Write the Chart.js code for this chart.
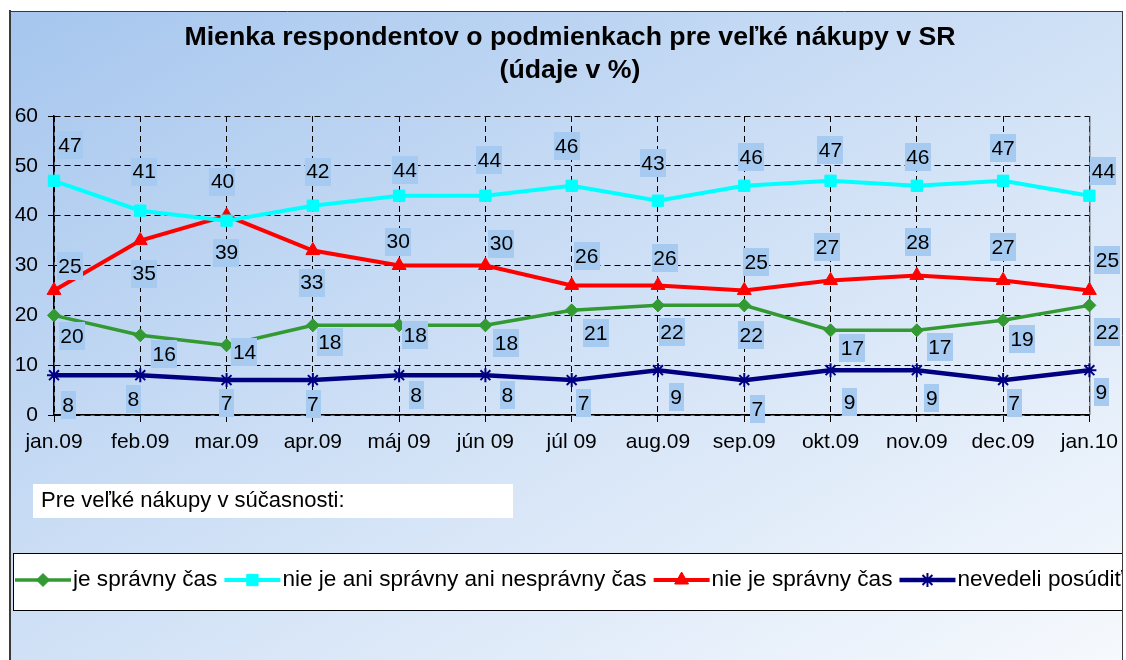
<!DOCTYPE html>
<html><head><meta charset="utf-8">
<script src="https://cdn.jsdelivr.net/npm/chart.js@4.4.1/dist/chart.umd.min.js"></script>
<style>html,body{margin:0;padding:0;background:#fff;}#wrap{width:1126px;height:660px;}</style>
</head><body><div id="wrap"><canvas id="c" width="1126" height="660"></canvas></div>
<script>
// ---- data ----
const categories = ['jan.09','feb.09','mar.09','apr.09','máj 09','jún 09','júl 09','aug.09','sep.09','okt.09','nov.09','dec.09','jan.10'];
const seriesNames = ['je správny čas','nie je ani správny ani nesprávny čas','nie je správny čas','nevedeli posúdiť'];
const valuesRight   = [20,16,14,18,18,18,21,22,22,17,17,19,22];
const valuesNeutral = [47,41,39,42,44,44,46,43,46,47,46,47,44];
const valuesWrong   = [25,35,40,33,30,30,26,26,25,27,28,27,25];
const valuesUnknown = [8,8,7,7,8,8,7,9,7,9,9,7,9];
const yTicks = [0,10,20,30,40,50,60];
const titleLines = ['Mienka respondentov o podmienkach pre veľké nákupy v SR','(údaje v %)'];
const noteText = 'Pre veľké nákupy v súčasnosti:';

// ---- label placement (style: pixel offsets of data labels from their points) ----
const labelOffsets = [
  [[18,21],[24,19],[18,7],[17,17],[16,10],[21,18],[24,23],[14,27],[7,30],[22,18],[23,17],[19,19],[18,27]],
  [[16,-36],[4,-39],[0,32],[5,-34],[6,-26],[4,-36],[-5,-40],[-5,-38],[7,-29],[0,-31],[1,-29],[0,-33],[14,-25]],
  [[16,-24],[4,33],[-4,-34],[-1,32],[-1,-24],[16,-22],[15,-29],[7,-27],[12,-28],[-3,-33],[1,-33],[0,-33],[18,-30]],
  [[14,30],[-7,24],[0,23],[0,24],[17,20],[22,20],[12,23],[18,27],[13,29],[19,32],[15,28],[11,23],[12,22]]
];
const styles = [
  {color:'#339933', point:'rectRot', r:6.5, lw:3.5, pbw:1},
  {color:'#00ffff', point:'rect', r:8, lw:4, pbw:1},
  {color:'#ff0000', point:'triangle', r:8, lw:4, pbw:1},
  {color:'#000080', point:'star', r:7, lw:4.5, pbw:2}
];
const FONT = "'Liberation Sans', Arial, sans-serif";
Chart.defaults.font.family = FONT;
Chart.defaults.color = '#000';

const seriesValues = [valuesRight, valuesNeutral, valuesWrong, valuesUnknown];
const datasets = seriesValues.map((vals, i) => ({
  label: seriesNames[i],
  data: vals,
  borderColor: styles[i].color,
  backgroundColor: styles[i].color,
  pointBackgroundColor: styles[i].color,
  pointBorderColor: styles[i].color,
  pointStyle: styles[i].point,
  pointRadius: styles[i].r,
  pointBorderWidth: styles[i].pbw,
  borderWidth: styles[i].lw,
  tension: 0,
  clip: false
}));

function drawSymbol(ctx, style, x, y, r, color, pbw) {
  ctx.save();
  ctx.fillStyle = color; ctx.strokeStyle = color; ctx.lineWidth = pbw;
  ctx.beginPath();
  if (style === 'rectRot') {
    ctx.moveTo(x - r, y); ctx.lineTo(x, y - r); ctx.lineTo(x + r, y); ctx.lineTo(x, y + r); ctx.closePath(); ctx.fill(); ctx.stroke();
  } else if (style === 'rect') {
    const s = Math.SQRT1_2 * r; ctx.rect(x - s, y - s, 2 * s, 2 * s); ctx.fill(); ctx.stroke();
  } else if (style === 'triangle') {
    for (let k = 0; k < 3; k++) { const a = k * 2 * Math.PI / 3; const px = x + Math.sin(a) * r, py = y - Math.cos(a) * r; k ? ctx.lineTo(px, py) : ctx.moveTo(px, py); }
    ctx.closePath(); ctx.fill(); ctx.stroke();
  } else if (style === 'star') {
    for (let k = 0; k < 4; k++) { const a = k * Math.PI / 4; ctx.moveTo(x - Math.cos(a) * r, y - Math.sin(a) * r); ctx.lineTo(x + Math.cos(a) * r, y + Math.sin(a) * r); }
    ctx.stroke();
  }
  ctx.restore();
}

const decorPlugin = {
  id: 'decor',
  afterLayout(chart) {
    // the reference title is centred slightly right of the plot's centre
    if (chart.titleBlock) { chart.titleBlock.left += 20; chart.titleBlock.right += 20; }
  },
  beforeDraw(chart) {
    const ctx = chart.ctx;
    ctx.save();
    ctx.fillStyle = '#fff'; ctx.fillRect(0, 0, 1126, 660);
    const g = ctx.createLinearGradient(10, 11, 575, 980);
    g.addColorStop(0, 'rgb(166,198,238)');
    g.addColorStop(0.5, 'rgb(208,225,246)');
    g.addColorStop(1, 'rgb(246,249,253)');
    ctx.fillStyle = g; ctx.fillRect(10, 11, 1113, 649);
    ctx.restore();
  },
  beforeDatasetsDraw(chart) {
    const ctx = chart.ctx, a = chart.chartArea;
    ctx.save();
    ctx.strokeStyle = '#555'; ctx.lineWidth = 1;
    ctx.beginPath(); ctx.moveTo(a.right + 0.5, a.top); ctx.lineTo(a.right + 0.5, a.bottom); ctx.stroke();
    ctx.restore();
  },
  afterDatasetsDraw(chart) {
    const ctx = chart.ctx;
    ctx.save();
    ctx.font = '21px ' + FONT;
    ctx.textAlign = 'center'; ctx.textBaseline = 'middle';
    chart.data.datasets.forEach((ds, i) => {
      const meta = chart.getDatasetMeta(i);
      meta.data.forEach((el, j) => {
        const off = labelOffsets[i][j];
        const x = el.x + off[0], y = el.y + off[1];
        const t = String(ds.data[j]);
        const w = ctx.measureText(t).width + 3, h = 28;
        ctx.fillStyle = 'rgb(166,202,240)';
        ctx.fillRect(Math.round(x - w / 2), Math.round(y - h / 2), Math.round(w), h);
        ctx.fillStyle = '#000';
        ctx.fillText(t, x, y + 1);
      });
    });
    ctx.restore();
  },
  afterDraw(chart) {
    const ctx = chart.ctx;
    ctx.save();
    // note box
    ctx.fillStyle = '#fff'; ctx.fillRect(33, 484, 480, 34);
    ctx.fillStyle = '#000'; ctx.font = '22px ' + FONT; ctx.textAlign = 'left'; ctx.textBaseline = 'middle';
    ctx.fillText(noteText, 41, 501);
    // legend box
    ctx.fillStyle = '#fff'; ctx.fillRect(13, 553, 1110, 58);
    ctx.strokeStyle = '#000'; ctx.lineWidth = 1; ctx.strokeRect(13.5, 553.5, 1109, 57);
    ctx.save();
    ctx.beginPath(); ctx.rect(14, 554, 1108, 56); ctx.clip();
    ctx.font = '22.6px ' + FONT;
    let x = 15; const y = 580;
    chart.data.datasets.forEach((ds, i) => {
      const st = styles[i];
      ctx.strokeStyle = st.color; ctx.lineWidth = st.lw;
      ctx.beginPath(); ctx.moveTo(x, y); ctx.lineTo(x + 56, y); ctx.stroke();
      drawSymbol(ctx, st.point, x + 28, y, st.r, st.color, st.pbw);
      ctx.fillStyle = '#000';
      ctx.fillText(ds.label, x + 58, y);
      x = x + 58 + ctx.measureText(ds.label).width + 7;
    });
    ctx.restore();
    // frame
    ctx.strokeStyle = '#3a3a3a';
    ctx.lineWidth = 2; ctx.beginPath(); ctx.moveTo(10, 10); ctx.lineTo(10, 660); ctx.stroke();
    ctx.lineWidth = 1; ctx.beginPath(); ctx.moveTo(9, 11.5); ctx.lineTo(1123, 11.5); ctx.stroke();
    ctx.beginPath(); ctx.moveTo(1122.5, 11); ctx.lineTo(1122.5, 660); ctx.stroke();
    ctx.restore();
  }
};

new Chart(document.getElementById('c'), {
  type: 'line',
  data: { labels: categories, datasets },
  options: {
    responsive: false,
    animation: false,
    devicePixelRatio: 1,
    layout: { padding: { left: 10, right: 36, top: 11, bottom: 0 } },
    plugins: {
      legend: { display: false },
      tooltip: { enabled: false },
      title: {
        display: true, text: titleLines, color: '#000',
        font: { size: 26.7, weight: 'bold', lineHeight: '33px' },
        padding: { top: 10, bottom: 29 }
      }
    },
    scales: {
      x: {
        type: 'category', offset: false,
        afterFit: s => { s.height = 245; },
        ticks: { color: '#000', font: { size: 21 }, padding: 8, maxRotation: 0, autoSkip: false },
        grid: { color: '#000', lineWidth: 1, tickLength: 7, tickColor: '#000', tickBorderDash: [] },
        border: { display: true, color: '#000', width: 1.5, dash: [6, 4] }
      },
      y: {
        min: 0, max: 60,
        afterBuildTicks: s => { s.ticks = yTicks.map(v => ({ value: v })); },
        afterFit: s => { s.width = 44; },
        ticks: { color: '#000', font: { size: 21 }, padding: 10 },
        grid: { color: '#000', lineWidth: 1, tickLength: 6, tickColor: '#000', tickBorderDash: [] },
        border: { display: true, color: '#000', width: 1.5, dash: [6, 4] }
      }
    }
  },
  plugins: [decorPlugin]
});
</script></body></html>
